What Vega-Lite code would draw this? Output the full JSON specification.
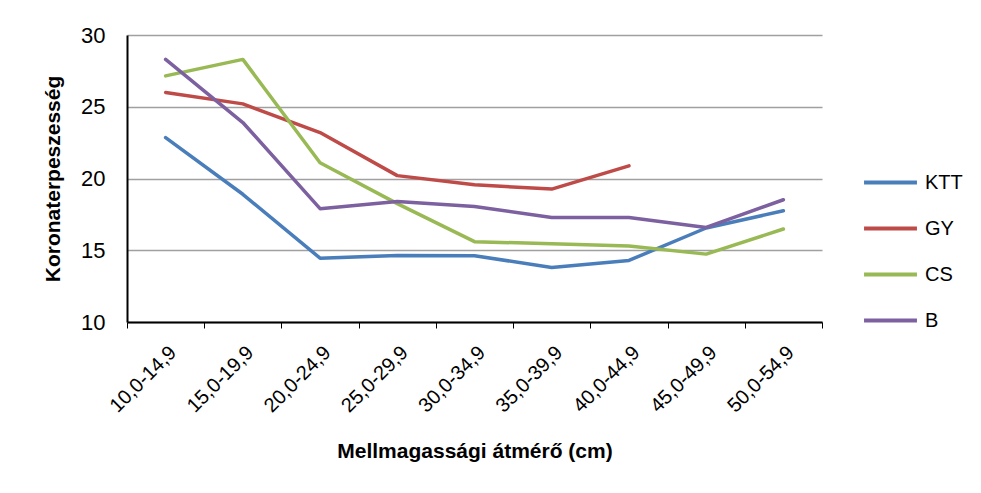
{
  "$schema": "https://vega.github.io/schema/vega-lite/v6.json",
  "width": 695,
  "height": 287,
  "autosize": {"type": "none"},
  "padding": {"left": 127, "top": 35, "right": 159, "bottom": 171},
  "background": "white",
  "config": {
    "font": "Liberation Sans, Arial",
    "view": {"stroke": null}
  },
  "data": {
    "values": [
      {"d": "10,0-14,9", "s": "KTT", "v": 22.85},
      {"d": "15,0-19,9", "s": "KTT", "v": 18.9},
      {"d": "20,0-24,9", "s": "KTT", "v": 14.45},
      {"d": "25,0-29,9", "s": "KTT", "v": 14.64},
      {"d": "30,0-34,9", "s": "KTT", "v": 14.62},
      {"d": "35,0-39,9", "s": "KTT", "v": 13.8},
      {"d": "40,0-44,9", "s": "KTT", "v": 14.29},
      {"d": "45,0-49,9", "s": "KTT", "v": 16.55},
      {"d": "50,0-54,9", "s": "KTT", "v": 17.75},
      {"d": "10,0-14,9", "s": "GY", "v": 26.0},
      {"d": "15,0-19,9", "s": "GY", "v": 25.2},
      {"d": "20,0-24,9", "s": "GY", "v": 23.2},
      {"d": "25,0-29,9", "s": "GY", "v": 20.2},
      {"d": "30,0-34,9", "s": "GY", "v": 19.56},
      {"d": "35,0-39,9", "s": "GY", "v": 19.26},
      {"d": "40,0-44,9", "s": "GY", "v": 20.88},
      {"d": "10,0-14,9", "s": "CS", "v": 27.15},
      {"d": "15,0-19,9", "s": "CS", "v": 28.3},
      {"d": "20,0-24,9", "s": "CS", "v": 21.1},
      {"d": "25,0-29,9", "s": "CS", "v": 18.25},
      {"d": "30,0-34,9", "s": "CS", "v": 15.6},
      {"d": "35,0-39,9", "s": "CS", "v": 15.45},
      {"d": "40,0-44,9", "s": "CS", "v": 15.3},
      {"d": "45,0-49,9", "s": "CS", "v": 14.73},
      {"d": "50,0-54,9", "s": "CS", "v": 16.48},
      {"d": "10,0-14,9", "s": "B", "v": 28.3},
      {"d": "15,0-19,9", "s": "B", "v": 23.9},
      {"d": "20,0-24,9", "s": "B", "v": 17.9},
      {"d": "25,0-29,9", "s": "B", "v": 18.4},
      {"d": "30,0-34,9", "s": "B", "v": 18.05},
      {"d": "35,0-39,9", "s": "B", "v": 17.28},
      {"d": "40,0-44,9", "s": "B", "v": 17.28},
      {"d": "45,0-49,9", "s": "B", "v": 16.59},
      {"d": "50,0-54,9", "s": "B", "v": 18.52}
    ]
  },
  "mark": {"type": "line", "strokeWidth": 3.5, "strokeCap": "round", "strokeJoin": "round"},
  "encoding": {
    "x": {
      "field": "d",
      "type": "ordinal",
      "bandPosition": 0.5,
      "scale": {"type": "band", "paddingInner": 0, "paddingOuter": 0},
      "axis": {
        "title": "Mellmagassági átmérő (cm)",
        "titleFontSize": 21,
        "titleFontWeight": "bold",
        "titleColor": "black",
        "titlePadding": 25,
        "labelAngle": -45,
        "labelFontSize": 20,
        "labelColor": "black",
        "labelPadding": 14,
        "labelDx": -4,
        "tickBand": "extent",
        "tickSize": 6,
        "tickColor": "black",
        "tickWidth": 1,
        "domainColor": "black",
        "domainWidth": 2,
        "grid": false
      }
    },
    "y": {
      "field": "v",
      "type": "quantitative",
      "scale": {"domain": [10, 30], "nice": false, "zero": false},
      "axis": {
        "title": "Koronaterpeszesség",
        "titleFontSize": 21,
        "titleFontWeight": "bold",
        "titleColor": "black",
        "titlePadding": 17,
        "values": [10, 15, 20, 25, 30],
        "labelFontSize": 22,
        "labelColor": "black",
        "labelPadding": 22,
        "tickSize": 0,
        "domainColor": "black",
        "domainWidth": 2,
        "grid": true,
        "gridColor": "#a0a0a0",
        "gridWidth": 1.5
      }
    },
    "color": {
      "field": "s",
      "type": "nominal",
      "sort": ["KTT", "GY", "CS", "B"],
      "scale": {"domain": ["KTT", "GY", "CS", "B"], "range": ["#4A7EBB", "#BE4B48", "#98B954", "#7D60A0"]},
      "legend": {
        "title": null,
        "orient": "none",
        "legendX": 735,
        "legendY": 119,
        "padding": 0,
        "symbolType": "stroke",
        "symbolSize": 2800,
        "symbolStrokeWidth": 4,
        "labelFontSize": 20,
        "labelColor": "black",
        "labelOffset": 6,
        "rowPadding": 7
      }
    }
  }
}
